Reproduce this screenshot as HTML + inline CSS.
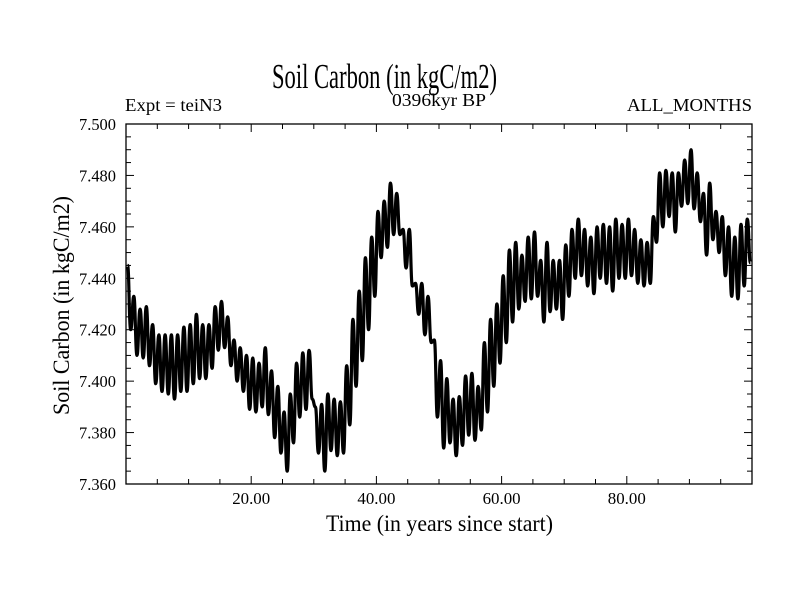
<!DOCTYPE html>
<html><head><meta charset="utf-8"><style>
html,body{margin:0;padding:0;background:#fff;}
svg{display:block;font-family:"Liberation Serif",serif;}
</style></head><body>
<svg id="chart" width="800" height="600" viewBox="0 0 800 600" xmlns="http://www.w3.org/2000/svg">
<rect width="800" height="600" fill="#fff"/>
<text x="272" y="88" font-size="35" textLength="225" lengthAdjust="spacingAndGlyphs">Soil Carbon (in kgC/m2)</text>
<text x="125" y="111" font-size="18" textLength="97" lengthAdjust="spacingAndGlyphs">Expt = teiN3</text>
<text x="392" y="106" font-size="18" textLength="94" lengthAdjust="spacingAndGlyphs">0396kyr BP</text>
<text x="627" y="111" font-size="18" textLength="125" lengthAdjust="spacingAndGlyphs">ALL_MONTHS</text>
<text x="326" y="531" font-size="23" textLength="227" lengthAdjust="spacingAndGlyphs">Time (in years since start)</text>
<text transform="translate(69,415) rotate(-90)" font-size="23" textLength="219" lengthAdjust="spacingAndGlyphs">Soil Carbon (in kgC/m2)</text>
<g id="axes"></g>
<path id="series" fill="none" stroke="#000" stroke-width="3.2" stroke-linejoin="round"/>
<rect x="126" y="124" width="626" height="360" fill="none" stroke="#000" stroke-width="1.3"/>
</svg>
<script>
const highs = [7.445,7.433,7.428,7.429,7.422,7.418,7.418,7.418,7.418,7.421,7.422,7.426,7.422,7.422,7.429,7.431,7.425,7.416,7.413,7.410,7.409,7.407,7.413,7.404,7.398,7.388,7.395,7.407,7.411,7.412,7.390,7.391,7.395,7.393,7.392,7.406,7.424,7.435,7.448,7.456,7.466,7.470,7.477,7.473,7.459,7.459,7.438,7.438,7.433,7.416,7.408,7.401,7.393,7.394,7.402,7.403,7.398,7.415,7.424,7.430,7.441,7.451,7.454,7.449,7.456,7.458,7.447,7.454,7.447,7.447,7.453,7.459,7.463,7.459,7.456,7.460,7.461,7.460,7.463,7.461,7.463,7.459,7.455,7.454,7.464,7.481,7.482,7.481,7.481,7.486,7.490,7.481,7.473,7.477,7.466,7.464,7.460,7.456,7.461,7.463];
const lows = [7.420,7.410,7.409,7.406,7.399,7.396,7.395,7.393,7.396,7.396,7.399,7.401,7.401,7.405,7.412,7.413,7.406,7.400,7.396,7.389,7.388,7.390,7.387,7.378,7.372,7.365,7.376,7.386,7.389,7.393,7.372,7.365,7.373,7.371,7.372,7.383,7.398,7.408,7.420,7.433,7.448,7.452,7.457,7.457,7.444,7.437,7.426,7.418,7.415,7.386,7.374,7.376,7.371,7.375,7.379,7.377,7.381,7.388,7.398,7.407,7.415,7.423,7.428,7.431,7.432,7.433,7.423,7.427,7.428,7.424,7.433,7.440,7.441,7.437,7.434,7.440,7.438,7.435,7.440,7.440,7.441,7.438,7.437,7.438,7.454,7.460,7.464,7.458,7.468,7.469,7.467,7.462,7.449,7.455,7.450,7.441,7.433,7.432,7.437,7.446];
const xTicks = [20,40,60,80];
const xTickLabels = ["20.00","40.00","60.00","80.00"];
const yTicks = [7.36,7.38,7.40,7.42,7.44,7.46,7.48,7.50];
const yTickLabels = ["7.360","7.380","7.400","7.420","7.440","7.460","7.480","7.500"];

const X0=126,X1=752,Y0=484,Y1=124,XMIN=0,XMAX=100,YMIN=7.36,YMAX=7.50;
const sx=v=>X0+(v-XMIN)/(XMAX-XMIN)*(X1-X0);
const sy=v=>Y0-(v-YMIN)/(YMAX-YMIN)*(Y0-Y1);
const NS="http://www.w3.org/2000/svg";
const axes=document.getElementById('axes');
function line(x1,y1,x2,y2,name){const l=document.createElementNS(NS,'line');l.setAttribute('x1',x1);l.setAttribute('y1',y1);l.setAttribute('x2',x2);l.setAttribute('y2',y2);l.setAttribute('stroke','#000');l.setAttribute('stroke-width','1');


axes.appendChild(l);}
for(let v=5;v<100;v+=5){const x=sx(v);const major=v%20===0;const L=major?8:5;line(x,Y0,x,Y0-L,'x-tick');line(x,Y1,x,Y1+L,'x-tick-top');}
for(let k=0;k<=28;k++){const v=YMIN+k*0.005;const y=sy(v);const major=k%4===0;const L=major?8:5;line(X0,y,X0+L,y,'y-tick');line(X1,y,X1-L,y,'y-tick-right');}
xTicks.forEach((v,i)=>{const t=document.createElementNS(NS,'text');t.setAttribute('x',sx(v)-19);t.setAttribute('y',504);t.setAttribute('font-size','17');t.setAttribute('textLength','38');t.setAttribute('lengthAdjust','spacingAndGlyphs');t.textContent=xTickLabels[i];


axes.appendChild(t);});
yTicks.forEach((v,i)=>{const t=document.createElementNS(NS,'text');t.setAttribute('x',79);t.setAttribute('y',sy(v)+6);t.setAttribute('font-size','17');t.setAttribute('textLength','37');t.setAttribute('lengthAdjust','spacingAndGlyphs');t.textContent=yTickLabels[i];


axes.appendChild(t);});
const pts=[];
highs.forEach((h,i)=>{pts.push([sx(i+0.25),sy(h)]);pts.push([sx(i+0.75),sy(lows[i])]);});
let d='M'+pts[0][0].toFixed(1)+','+pts[0][1].toFixed(1);
for(let k=1;k<pts.length;k++){const a=pts[k-1],b=pts[k],h=(b[0]-a[0])/2;
d+=' C'+(a[0]+h).toFixed(1)+','+a[1].toFixed(1)+' '+(b[0]-h).toFixed(1)+','+b[1].toFixed(1)+' '+b[0].toFixed(1)+','+b[1].toFixed(1);}
document.getElementById('series').setAttribute('d',d);
</script>
</body></html>
